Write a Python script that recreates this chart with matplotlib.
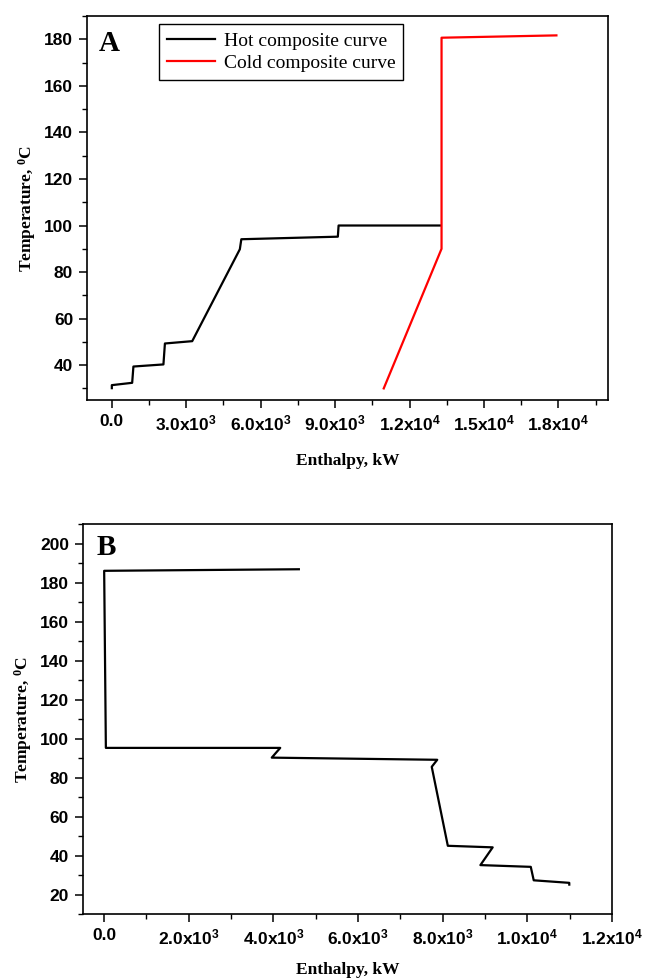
import matplotlib
matplotlib.use("Agg")
import matplotlib.pyplot as plt
from matplotlib.ticker import MultipleLocator, FuncFormatter
import numpy as np

# Panel A: composite curves (enthalpy kW, temperature C)
hot_h = [0, 0, 820, 870, 2080, 2140, 3240, 5160, 5220, 9110, 9140, 13260]
hot_t = [30.1, 31.4, 32.4, 39.4, 40.3, 49.3, 50.3, 89.8, 94.1, 95.2, 100.0, 100.0]
cold_h = [10960, 13290, 13290, 17920]
cold_t = [30.0, 90.0, 180.7, 181.7]

# Panel B: grand composite curve
gcc_h = [4600, 0, 40, 4160, 3960, 7870, 7740, 8120, 9180, 8890, 10080, 10150, 10990, 10990]
gcc_t = [186.8, 186.0, 95.2, 95.2, 90.2, 89.1, 85.5, 45.0, 44.2, 35.1, 34.2, 27.3, 26.0, 25.1]

plt.rcParams['font.family'] = 'Liberation Sans'
plt.rcParams['mathtext.default'] = 'regular'
plt.rcParams['axes.linewidth'] = 1.2


def sci(v, pos):
    if abs(v) < 1e-9:
        return '0.0'
    e = int(np.floor(np.log10(abs(v))))
    m = v / 10 ** e
    return f"{m:.1f}x10$^{{{e}}}$"


def style(ax, xmaj, xmin, ymaj, ymin, xpad):
    ax.xaxis.set_major_locator(MultipleLocator(xmaj))
    ax.xaxis.set_minor_locator(MultipleLocator(xmin))
    ax.yaxis.set_major_locator(MultipleLocator(ymaj))
    ax.yaxis.set_minor_locator(MultipleLocator(ymin))
    ax.xaxis.set_major_formatter(FuncFormatter(sci))
    ax.tick_params(which='major', direction='out', length=6, width=1.1,
                   labelsize=12.5, top=False, right=False, pad=4)
    ax.tick_params(which='minor', direction='out', length=3.5, width=1.0,
                   top=False, right=False)
    ax.set_xlabel('Enthalpy, kW', family='Liberation Serif', fontweight='bold',
                  fontsize=12.5, labelpad=xpad)
    ax.set_ylabel('Temperature, $^{0}$C', family='Liberation Serif',
                  fontweight='bold', fontsize=12.5, labelpad=4)


fig = plt.figure(figsize=(6.46, 9.8), dpi=100)

axA = fig.add_axes([0.1347, 0.5918, 0.8065, 0.3918])
axA.plot(hot_h, hot_t, color='black', lw=1.6, label='Hot composite curve')
axA.plot(cold_h, cold_t, color='red', lw=1.6, label='Cold composite curve')
axA.set_xlim(-1000, 20000)
axA.set_ylim(25, 190)
style(axA, 3000, 1500, 20, 10, 14)
axA.set_yticks(np.arange(40, 181, 20))
axA.text(0.022, 0.965, 'A', transform=axA.transAxes, ha='left', va='top',
         family='Liberation Serif', fontweight='bold', fontsize=21)
leg = axA.legend(loc='upper left', bbox_to_anchor=(0.138, 0.979), borderaxespad=0,
                 prop={'family': 'Liberation Serif', 'size': 14},
                 fancybox=False, edgecolor='black', framealpha=1,
                 handlelength=2.5, handletextpad=0.45, borderpad=0.4,
                 labelspacing=0.25)
leg.get_frame().set_linewidth(1.0)

axB = fig.add_axes([0.1285, 0.0673, 0.8189, 0.398])
axB.plot(gcc_h, gcc_t, color='black', lw=1.6)
axB.set_xlim(-500, 12000)
axB.set_ylim(10, 210)
style(axB, 2000, 1000, 20, 10, 10)
axB.text(0.025, 0.975, 'B', transform=axB.transAxes, ha='left', va='top',
         family='Liberation Serif', fontweight='bold', fontsize=21)

for ax in (axA, axB):
    for lab in ax.get_xticklabels() + ax.get_yticklabels():
        lab.set_fontweight('bold')

fig.savefig('out.png', dpi=100)
plt.close(fig)
